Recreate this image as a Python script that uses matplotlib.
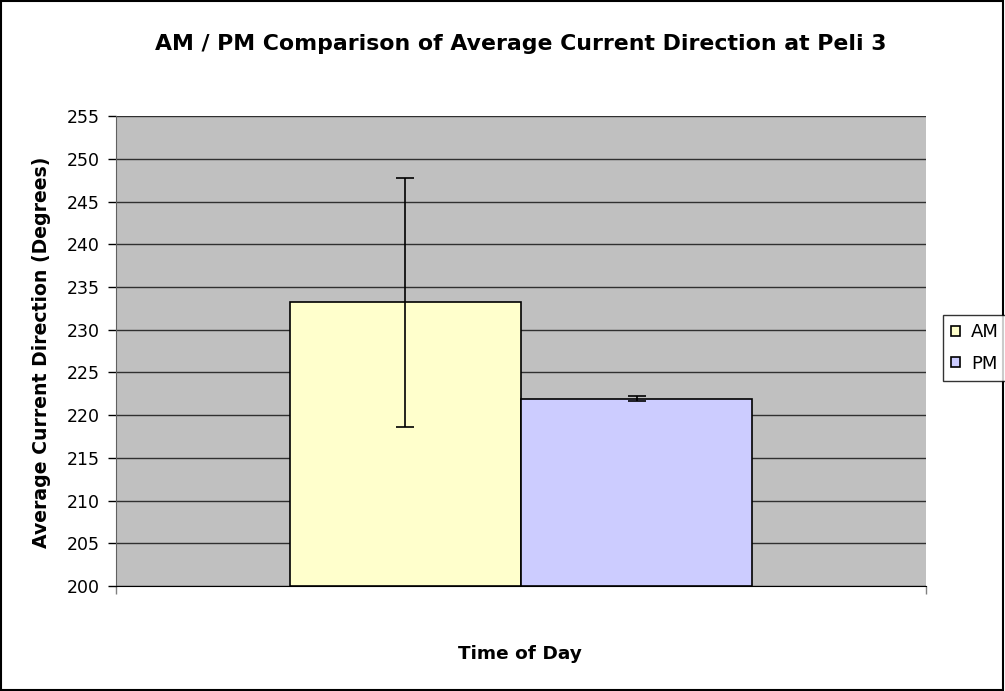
import numpy as np
import matplotlib
matplotlib.use('Agg')
import matplotlib.pyplot as plt
from matplotlib.patches import Rectangle

plt.rcParams['font.family'] = ['DejaVu Sans']

# Values
series = ['AM', 'PM']
means = [233.2, 221.9]
errors = [14.6, 0.3]
colors = ['#FFFFCC', '#CCCCFF']
y_ticks = list(range(200, 256, 5))

fig = plt.figure(figsize=(10.05, 6.91), dpi=100)
ax = fig.add_axes([0.1154, 0.152, 0.806, 0.680])
ax.set_facecolor('#C0C0C0')

w = 0.2852
offsets = [-w / 2, w / 2]
for name, m, e, c, off in zip(series, means, errors, colors, offsets):
    ax.bar(off, m - 200, width=w, bottom=200, color=c, edgecolor='black',
           linewidth=1.2, label=name, zorder=3)
    ax.errorbar(off, m, yerr=e, fmt='none', ecolor='black', elinewidth=1.2,
                capsize=6.5, capthick=1.2, zorder=4)

ax.set_xlim(-0.5, 0.5)
ax.set_ylim(200, 255)
ax.set_yticks(y_ticks)
ax.set_xticks([-0.5, 0.5])
ax.set_xticklabels(['', ''])
ax.yaxis.grid(True, color='#303030', linewidth=1.0, zorder=0)
ax.set_axisbelow(True)
for s in ['top', 'right']:
    ax.spines[s].set_visible(False)
ax.spines['left'].set_color('#606060')
ax.spines['bottom'].set_color('black')
ax.tick_params(axis='y', direction='out', length=6, width=1, labelsize=12.5, pad=6)
ax.tick_params(axis='x', direction='out', length=6, width=1, colors='#808080')

fig.text(521 / 1005, 1 - 44 / 691, 'AM / PM Comparison of Average Current Direction at Peli 3',
         ha='center', va='center', fontsize=15.8, fontweight='bold')
fig.text(520 / 1005, 1 - 654 / 691, 'Time of Day', ha='center', va='center',
         fontsize=13.3, fontweight='bold')
fig.text(42 / 1005, 1 - 352 / 691, 'Average Current Direction (Degrees)', ha='center',
         va='center', rotation=90, fontsize=13.6, fontweight='bold')

leg = fig.legend(loc='upper left', bbox_to_anchor=(943 / 1005, 1 - 315 / 691),
                 fontsize=13, frameon=True, fancybox=False, edgecolor='black',
                 handlelength=0.5, handleheight=0.5, handletextpad=0.6,
                 borderpad=0.45, labelspacing=0.75, borderaxespad=0)
leg.get_frame().set_linewidth(1.0)

fig.patches.append(Rectangle((0.001, 0.002), 0.997, 0.996, transform=fig.transFigure,
                             fill=False, edgecolor='black', linewidth=1.5))

fig.savefig('out.png', dpi=100)
